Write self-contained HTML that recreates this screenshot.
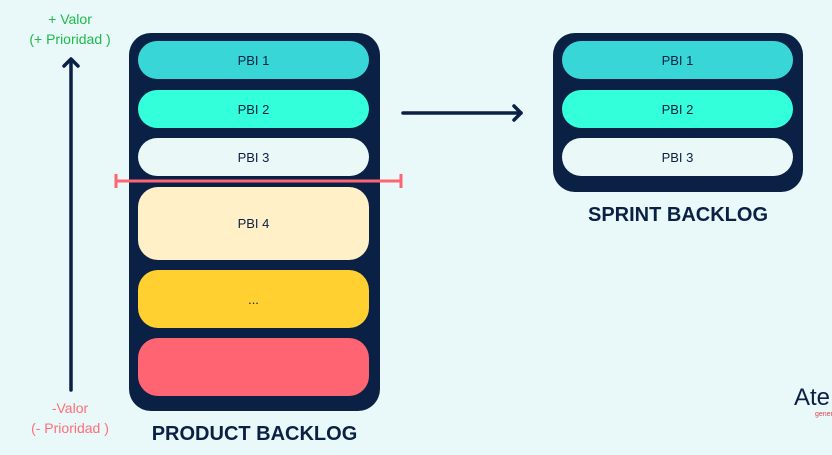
<!DOCTYPE html>
<html><head><style>
body{margin:0;width:832px;height:455px;background:#e9f8f8;position:relative;overflow:hidden;font-family:"Liberation Sans",sans-serif}
.a{position:absolute}
.box{position:absolute;background:#0a2145;border-radius:22px}
.p{position:absolute;border-radius:19px;display:flex;align-items:center;justify-content:center;font-size:13px;color:#0a2145}
.t{position:absolute;text-align:center;font-size:14px;line-height:20px}
.h{position:absolute;font-weight:bold;font-size:20px;color:#0a2145;text-align:center;letter-spacing:0}
</style></head><body>
<div class="t" style="left:0;width:140px;top:9px;color:#1dba4c">+ Valor</div>
<div class="t" style="left:0;width:140px;top:29px;color:#1dba4c">(+ Prioridad )</div>
<div class="t" style="left:0;width:140px;top:398px;color:#ff6e7a">-Valor</div>
<div class="t" style="left:0;width:140px;top:418px;color:#ff6e7a">(- Prioridad )</div>
<div class="box" style="left:129px;top:33px;width:251px;height:378px"></div>
<div class="p" style="left:138px;top:41px;width:231px;height:38px;background:#38d6d6">PBI 1</div>
<div class="p" style="left:138px;top:90px;width:231px;height:38px;background:#33ffdb">PBI 2</div>
<div class="p" style="left:138px;top:138px;width:231px;height:38px;background:#eaf8f8">PBI 3</div>
<div class="p" style="left:138px;top:187px;width:231px;height:73px;background:#fff0c8;border-radius:20px">PBI 4</div>
<div class="p" style="left:138px;top:270px;width:231px;height:58px;background:#ffd02f;border-radius:20px">...</div>
<div class="p" style="left:138px;top:338px;width:231px;height:58px;background:#ff6473;border-radius:20px"></div>
<div class="h" style="left:129px;width:251px;top:423px">PRODUCT BACKLOG</div>
<div class="box" style="left:553px;top:33px;width:250px;height:159px"></div>
<div class="p" style="left:562px;top:41px;width:231px;height:38px;background:#38d6d6">PBI 1</div>
<div class="p" style="left:562px;top:90px;width:231px;height:38px;background:#33ffdb">PBI 2</div>
<div class="p" style="left:562px;top:138px;width:231px;height:38px;background:#eaf8f8">PBI 3</div>
<div class="h" style="left:553px;width:250px;top:204px">SPRINT BACKLOG</div>
<svg class="a" style="left:0;top:0" width="832" height="455">
<g stroke="#0a2145" stroke-width="3.5" fill="none" stroke-linecap="round" stroke-linejoin="round">
<line x1="71" y1="60" x2="71" y2="390"/><polyline points="64,66 71,59 78,66"/>
<line x1="403" y1="113" x2="521" y2="113"/><polyline points="514,106 521,113 514,120"/>
</g>
<g stroke="#ff6473" stroke-width="3">
<line x1="116" y1="181" x2="401" y2="181"/><line x1="116" y1="174" x2="116" y2="188"/><line x1="401" y1="174" x2="401" y2="188"/>
</g>
<text x="794" y="405" font-size="24" fill="#0a2145" font-family="Liberation Sans">Ate</text>
<text x="815" y="416" font-size="7" fill="#e8434f" font-family="Liberation Sans">gener</text>
</svg>
</body></html>
